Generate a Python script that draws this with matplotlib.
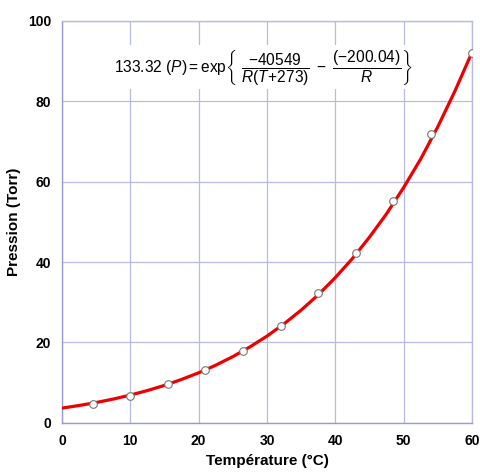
import matplotlib.pyplot as plt

plt.rcParams['font.family'] = ['Liberation Sans', 'DejaVu Sans']
plt.rcParams['mathtext.fontset'] = 'custom'
plt.rcParams['mathtext.rm'] = 'Liberation Sans'
plt.rcParams['mathtext.it'] = 'Liberation Sans:italic'

# points mesures
temp_pts = [4.5, 10, 15.5, 21, 26.5, 32, 37.5, 43, 48.5, 54, 60]
pression_pts = [4.8, 6.8, 9.6, 13.2, 18.0, 24.2, 32.2, 42.3, 55.3, 71.8, 92.0]

# courbe ajustee
temp_fit = [0, 2.5, 5, 7.5, 10, 12.5, 15, 17.5, 20, 22.5, 25, 27.5, 30,
            32.5, 35, 37.5, 40, 42.5, 45, 47.5, 50, 52.5, 55, 57.5, 60]
pression_fit = [3.68, 4.33, 5.07, 5.93, 6.92, 8.05, 9.33, 10.81, 12.46, 14.35,
                16.48, 18.89, 21.58, 24.63, 28.04, 31.84, 36.12, 40.85, 46.17,
                51.98, 58.5, 65.6, 73.6, 82.45, 92.06]

xticks = [0, 10, 20, 30, 40, 50, 60]
yticks = [0, 20, 40, 60, 80, 100]

fig = plt.figure(figsize=(4.81, 4.72), dpi=100)
ax = fig.add_axes([0.129, 0.104, 0.852, 0.852])

grid_col = '#b9b9e6'
ax.plot(temp_fit, pression_fit, color='#ee0000', lw=2.3, zorder=3)
ax.plot(temp_pts, pression_pts, 'o', ms=5.5, mfc='white', mec='#777777', mew=0.8, zorder=4)

ax.set_xlim(0, 60)
ax.set_ylim(0, 100)
ax.set_xticks(xticks)
ax.set_yticks(yticks)
ax.grid(True, color=grid_col, lw=0.9)
ax.set_axisbelow(True)
for s in ax.spines.values():
    s.set_color(grid_col)
    s.set_linewidth(1.0)
ax.spines['left'].set_color('#9a9ad8')
ax.spines['bottom'].set_color('#9a9ad8')
ax.tick_params(length=0, labelsize=10, pad=8)
for lab in ax.get_xticklabels() + ax.get_yticklabels():
    lab.set_fontweight('bold')

ax.set_xlabel('Température (°C)', fontsize=11, fontweight='bold', labelpad=4)
ax.set_ylabel('Pression (Torr)', fontsize=11, fontweight='bold', labelpad=5)

ax.text(0.49, 0.885,
        r'$133.32\ (P) = \mathrm{exp}\left\{\ \dfrac{-40549}{R(T\!+\!273)}\ -\ \dfrac{(-200.04)}{R}\right\}$',
        transform=ax.transAxes, ha='center', va='center', fontsize=11.2,
        bbox=dict(facecolor='white', edgecolor='none', pad=2))

fig.savefig('out.png', dpi=100)
